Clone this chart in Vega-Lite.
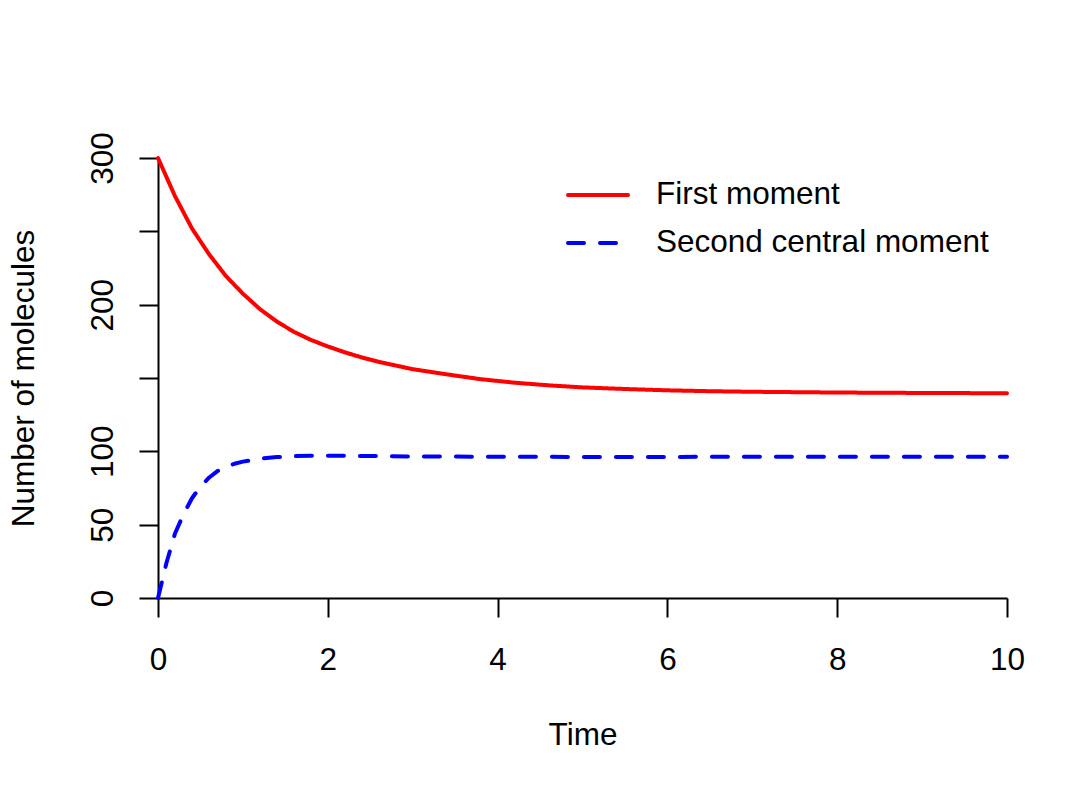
{
  "$schema": "https://vega.github.io/schema/vega-lite/v6.json",
  "width": 849,
  "height": 440,
  "autosize": {"type": "none"},
  "padding": {"left": 158, "top": 158, "right": 81, "bottom": 196},
  "background": "white",
  "config": {
    "view": {"stroke": null},
    "font": "Liberation Sans",
    "axis": {
      "grid": false,
      "domainColor": "black",
      "domainWidth": 2,
      "tickColor": "black",
      "tickWidth": 2,
      "tickSize": 19,
      "labelFont": "Liberation Sans",
      "labelFontSize": 31.5,
      "labelColor": "black",
      "titleFont": "Liberation Sans",
      "titleFontSize": 31.5,
      "titleFontWeight": "normal",
      "titleColor": "black"
    }
  },
  "data": {
    "values": [
      {"t": 0, "value": 300, "series": "First moment"},
      {"t": 0.2, "value": 274, "series": "First moment"},
      {"t": 0.4, "value": 252, "series": "First moment"},
      {"t": 0.6, "value": 234.5, "series": "First moment"},
      {"t": 0.8, "value": 219.5, "series": "First moment"},
      {"t": 1.0, "value": 207.5, "series": "First moment"},
      {"t": 1.2, "value": 197, "series": "First moment"},
      {"t": 1.4, "value": 188.5, "series": "First moment"},
      {"t": 1.6, "value": 181.5, "series": "First moment"},
      {"t": 1.8, "value": 176, "series": "First moment"},
      {"t": 2.0, "value": 171.5, "series": "First moment"},
      {"t": 2.2, "value": 167.5, "series": "First moment"},
      {"t": 2.4, "value": 164, "series": "First moment"},
      {"t": 2.6, "value": 161, "series": "First moment"},
      {"t": 2.8, "value": 158.5, "series": "First moment"},
      {"t": 3.0, "value": 156, "series": "First moment"},
      {"t": 3.4, "value": 152.5, "series": "First moment"},
      {"t": 3.8, "value": 149.2, "series": "First moment"},
      {"t": 4.2, "value": 146.8, "series": "First moment"},
      {"t": 4.6, "value": 145, "series": "First moment"},
      {"t": 5.0, "value": 143.6, "series": "First moment"},
      {"t": 5.5, "value": 142.5, "series": "First moment"},
      {"t": 6.0, "value": 141.6, "series": "First moment"},
      {"t": 6.5, "value": 141, "series": "First moment"},
      {"t": 7.0, "value": 140.6, "series": "First moment"},
      {"t": 8.0, "value": 140.1, "series": "First moment"},
      {"t": 9.0, "value": 139.8, "series": "First moment"},
      {"t": 10.0, "value": 139.6, "series": "First moment"},
      {"t": 0, "value": 0, "series": "Second central moment"},
      {"t": 0.1, "value": 24, "series": "Second central moment"},
      {"t": 0.2, "value": 44, "series": "Second central moment"},
      {"t": 0.3, "value": 57, "series": "Second central moment"},
      {"t": 0.4, "value": 68, "series": "Second central moment"},
      {"t": 0.5, "value": 76, "series": "Second central moment"},
      {"t": 0.6, "value": 82, "series": "Second central moment"},
      {"t": 0.7, "value": 86.5, "series": "Second central moment"},
      {"t": 0.8, "value": 89.5, "series": "Second central moment"},
      {"t": 0.9, "value": 91.5, "series": "Second central moment"},
      {"t": 1.0, "value": 93, "series": "Second central moment"},
      {"t": 1.2, "value": 95, "series": "Second central moment"},
      {"t": 1.4, "value": 96.1, "series": "Second central moment"},
      {"t": 1.6, "value": 96.7, "series": "Second central moment"},
      {"t": 1.8, "value": 97, "series": "Second central moment"},
      {"t": 2.0, "value": 97, "series": "Second central moment"},
      {"t": 2.5, "value": 96.8, "series": "Second central moment"},
      {"t": 3.0, "value": 96.5, "series": "Second central moment"},
      {"t": 4.0, "value": 96.3, "series": "Second central moment"},
      {"t": 5.0, "value": 96.2, "series": "Second central moment"},
      {"t": 6.0, "value": 96.2, "series": "Second central moment"},
      {"t": 7.0, "value": 96.3, "series": "Second central moment"},
      {"t": 8.0, "value": 96.3, "series": "Second central moment"},
      {"t": 9.0, "value": 96.3, "series": "Second central moment"},
      {"t": 10.0, "value": 96.3, "series": "Second central moment"}
    ]
  },
  "mark": {"type": "line", "strokeWidth": 4, "strokeCap": "round", "strokeJoin": "round"},
  "encoding": {
    "x": {
      "field": "t",
      "type": "quantitative",
      "scale": {"domain": [0, 10], "nice": false, "zero": false},
      "axis": {
        "title": "Time",
        "values": [0, 2, 4, 6, 8, 10],
        "labelPadding": 27,
        "labelBaseline": "top",
        "titlePadding": 44,
        "labelFlush": false,
        "labelOverlap": false
      }
    },
    "y": {
      "field": "value",
      "type": "quantitative",
      "scale": {"domain": [0, 300], "nice": false},
      "axis": {
        "title": "Number of molecules",
        "values": [0, 50, 100, 150, 200, 250, 300],
        "labelExpr": "datum.value == 150 || datum.value == 250 ? '' : datum.label",
        "labelAngle": -90,
        "labelAlign": "center",
        "labelBaseline": "alphabetic",
        "labelPadding": 27,
        "titlePadding": 47,
        "labelFlush": false,
        "labelOverlap": false
      }
    },
    "color": {
      "field": "series",
      "type": "nominal",
      "scale": {"domain": ["First moment", "Second central moment"], "range": ["#FF0000", "#0000FF"]},
      "legend": {
        "title": null,
        "orient": "none",
        "legendX": 408,
        "legendY": 5,
        "padding": 0,
        "symbolType": "stroke",
        "symbolSize": 3600,
        "symbolStrokeWidth": 4,
        "labelFont": "Liberation Sans",
        "labelFontSize": 31.5,
        "labelColor": "black",
        "labelOffset": 26,
        "labelLimit": 600,
        "rowPadding": 0,
        "encode": {"symbols": {"update": {"strokeCap": {"value": "round"}}}}
      }
    },
    "strokeDash": {
      "field": "series",
      "type": "nominal",
      "scale": {"domain": ["First moment", "Second central moment"], "range": [[1, 0], [16, 16]]},
      "legend": {
        "title": null,
        "orient": "none",
        "legendX": 408,
        "legendY": 5,
        "padding": 0,
        "symbolType": "stroke",
        "symbolSize": 3600,
        "symbolStrokeWidth": 4,
        "labelFont": "Liberation Sans",
        "labelFontSize": 31.5,
        "labelColor": "black",
        "labelOffset": 26,
        "labelLimit": 600,
        "rowPadding": 0,
        "encode": {"symbols": {"update": {"strokeCap": {"value": "round"}}}}
      }
    }
  }
}
